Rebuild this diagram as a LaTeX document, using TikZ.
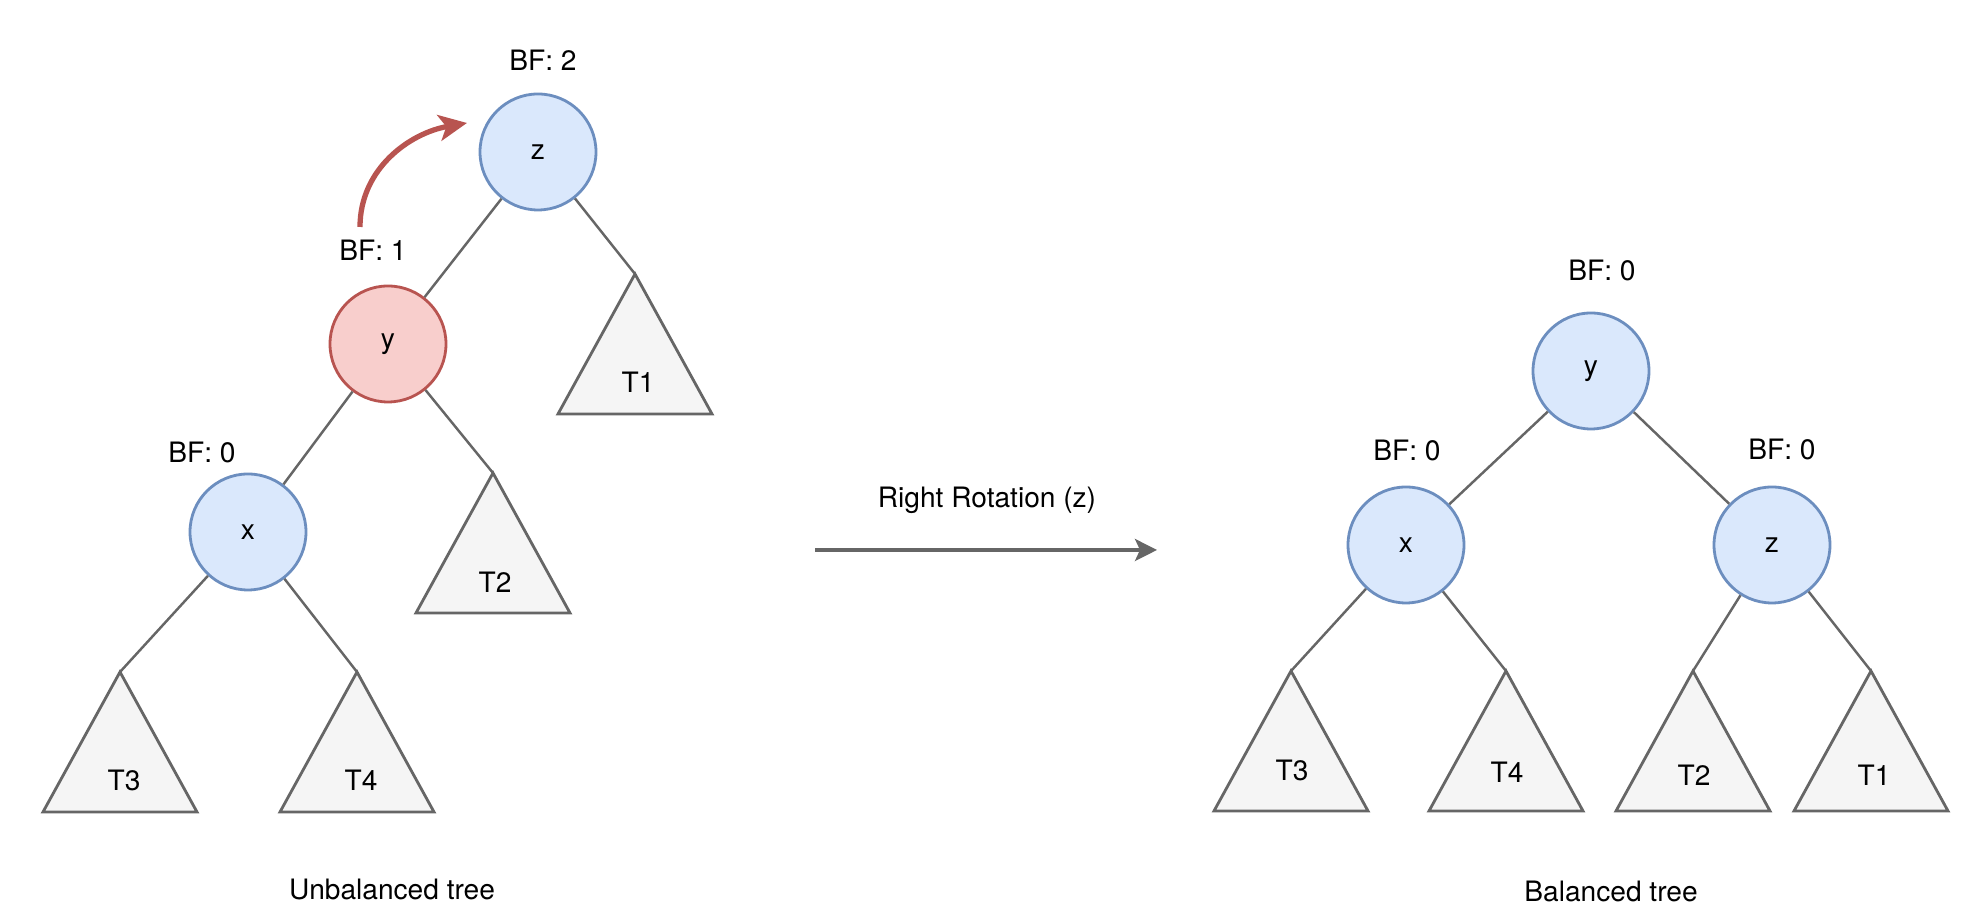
\documentclass[tikz,border=0pt]{standalone}
\usepackage{fontspec}
\setmainfont{TeX Gyre Heros}
\usepackage{tikz}
\usetikzlibrary{arrows.meta}
\definecolor{nodeblue}{HTML}{DAE8FC}
\definecolor{lineblue}{HTML}{6C8EBF}
\definecolor{nodered}{HTML}{F8CECC}
\definecolor{linered}{HTML}{B85450}
\definecolor{treegray}{HTML}{F5F5F5}
\definecolor{linegray}{HTML}{666666}

\begin{document}
\begin{tikzpicture}[
  font=\fontsize{8}{10}\selectfont,
  avl/.style={shape=circle, draw=lineblue, fill=nodeblue, line width=0.8pt, minimum size=1.16cm, inner sep=0pt},
  heavy/.style={avl, draw=linered, fill=nodered},
  subtree/.style={draw=linegray, fill=treegray, line width=0.8pt},
  link/.style={draw=linegray, line width=0.7pt}
]
\useasboundingbox (0,0) rectangle (19.74,9.22);

% unbalanced tree
\node[avl] (Z1) at (5.38,7.70) {z};
\node[heavy] (Y1) at (3.88,5.78) {y};
\node[avl] (X1) at (2.48,3.90) {x};
\node (bfZ1) at (5.43,8.62) {BF: 2};
\node (bfY1) at (3.73,6.72) {BF: 1};
\node (bfX1) at (2.02,4.70) {BF: 0};
\coordinate (L1) at (6.35,6.48);
\coordinate (L2) at (4.93,4.49);
\coordinate (L3) at (1.20,2.50);
\coordinate (L4) at (3.57,2.50);
\draw[subtree] (L1) -- ++(-0.77,-1.40) -- ++(1.54,0) -- cycle;
\draw[subtree] (L2) -- ++(-0.77,-1.40) -- ++(1.54,0) -- cycle;
\draw[subtree] (L3) -- ++(-0.77,-1.40) -- ++(1.54,0) -- cycle;
\draw[subtree] (L4) -- ++(-0.77,-1.40) -- ++(1.54,0) -- cycle;
\node (tL1) at (6.38,5.40) {T1};
\node (tL2) at (4.95,3.40) {T2};
\node (tL3) at (1.24,1.42) {T3};
\node (tL4) at (3.61,1.42) {T4};
\draw[link] (Z1) -- (Y1);
\draw[link] (Z1) -- (L1);
\draw[link] (Y1) -- (X1);
\draw[link] (Y1) -- (L2);
\draw[link] (X1) -- (L3);
\draw[link] (X1) -- (L4);
\coordinate (S) at (3.60,6.95);
\coordinate (E) at (4.67,7.99);
\draw[linered, line width=1.5pt, -{Stealth[length=0.28cm,width=0.26cm,inset=0.07cm]}] (S) to[out=90,in=190] (E);
\node (cap1) at (3.92,0.32) {Unbalanced tree};

% rotation
\coordinate (A) at (8.15,3.72);
\coordinate (B) at (11.57,3.72);
\draw[linegray, line width=1pt, -{Stealth[length=0.22cm,width=0.22cm,inset=0.05cm]}] (A) -- (B);
\node (rot) at (9.87,4.22) {Right Rotation (z)};

% balanced tree
\node[avl] (Y2) at (15.91,5.51) {y};
\node[avl] (X2) at (14.06,3.77) {x};
\node[avl] (Z2) at (17.72,3.77) {z};
\node (bfY2) at (16.02,6.52) {BF: 0};
\node (bfX2) at (14.07,4.72) {BF: 0};
\node (bfZ2) at (17.82,4.73) {BF: 0};
\coordinate (R3) at (12.91,2.51);
\coordinate (R4) at (15.06,2.51);
\coordinate (R2) at (16.93,2.51);
\coordinate (R1) at (18.71,2.51);
\draw[subtree] (R3) -- ++(-0.77,-1.40) -- ++(1.54,0) -- cycle;
\draw[subtree] (R4) -- ++(-0.77,-1.40) -- ++(1.54,0) -- cycle;
\draw[subtree] (R2) -- ++(-0.77,-1.40) -- ++(1.54,0) -- cycle;
\draw[subtree] (R1) -- ++(-0.77,-1.40) -- ++(1.54,0) -- cycle;
\node (tR3) at (12.92,1.52) {T3};
\node (tR4) at (15.07,1.50) {T4};
\node (tR2) at (16.94,1.47) {T2};
\node (tR1) at (18.74,1.47) {T1};
\draw[link] (Y2) -- (X2);
\draw[link] (Y2) -- (Z2);
\draw[link] (X2) -- (R3);
\draw[link] (X2) -- (R4);
\draw[link] (Z2) -- (R2);
\draw[link] (Z2) -- (R1);
\node (cap2) at (16.11,0.31) {Balanced tree};
\end{tikzpicture}
\end{document}
